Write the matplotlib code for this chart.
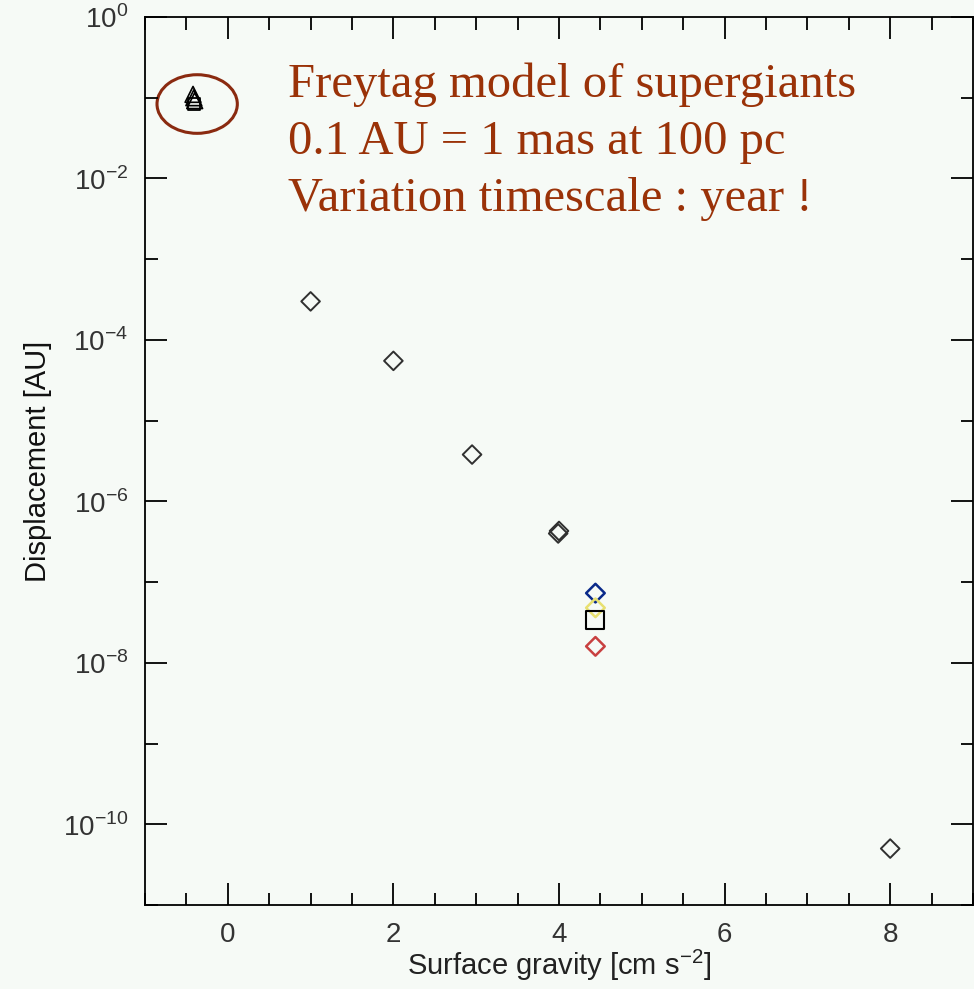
import math
import matplotlib
matplotlib.use("Agg")
import matplotlib.pyplot as plt
from matplotlib.patches import Ellipse
from matplotlib.ticker import LogLocator, MultipleLocator, FuncFormatter, NullFormatter

# black diamonds (surface gravity, displacement)
diamond_g = [1.0, 2.0, 2.95, 4.0, 3.99, 8.0]
diamond_d = [3.0e-4, 5.5e-5, 3.8e-6, 4.3e-7, 4.0e-7, 5.0e-11]
# coloured points near solar gravity
sun_g = [4.44, 4.44, 4.44]
sun_d = [7.3e-8, 4.8e-8, 1.6e-8]
sun_colors = ["#0a2a8a", "#e8e070", "#c84040"]
square_g = [4.44]
square_d = [3.4e-8]
# supergiant triangles
tri_g = [-0.42, -0.41, -0.40]
tri_d = [0.11, 0.10, 0.092]
box_g = [-0.41]
box_d = [0.083]

note_lines = ["Freytag model of supergiants",
              "0.1 AU = 1 mas at 100 pc",
              "Variation timescale : year !"]

bg = "#f6faf6"
fig = plt.figure(figsize=(9.74, 9.89), dpi=100, facecolor=bg)
ax = fig.add_axes([145 / 974, 1 - 905 / 989, (973 - 145) / 974, (905 - 17) / 989])
ax.set_facecolor(bg)
ax.set_yscale("log")
ax.set_xlim(-1, 9)
ax.set_ylim(1e-11, 1)

ax.scatter(diamond_g, diamond_d, marker="D", s=90, facecolors="none",
           edgecolors="#303030", linewidths=1.4, zorder=3)
ax.scatter(sun_g, sun_d, marker="D", s=90, facecolors="none",
           edgecolors=sun_colors, linewidths=1.8, zorder=3)
ax.scatter(square_g, square_d, marker="s", s=170, facecolors="none",
           edgecolors="black", linewidths=1.5, zorder=4)
ax.scatter(tri_g, tri_d, marker="^", s=130, facecolors="none",
           edgecolors="black", linewidths=1.2, zorder=3)
ax.scatter(box_g, box_d, marker="s", s=80, facecolors="none",
           edgecolors="black", linewidths=1.3, zorder=3)

# circle drawn round the supergiants (axes fraction)
ax.add_patch(Ellipse((0.063, 0.902), 0.097, 0.066, transform=ax.transAxes,
                     fill=False, edgecolor="#8a2a10", linewidth=2.2))

ax.xaxis.set_major_locator(MultipleLocator(2))
ax.xaxis.set_minor_locator(MultipleLocator(0.5))
ax.yaxis.set_major_locator(LogLocator(base=100, numticks=20))
ax.yaxis.set_minor_locator(LogLocator(base=10, subs=[1.0], numticks=20))
ax.yaxis.set_minor_formatter(NullFormatter())
ax.yaxis.set_major_formatter(
    FuncFormatter(lambda v, p: r"10$^{\mathregular{%d}}$" % round(math.log10(v))))
ax.xaxis.offsetText.set_visible(False)
ax.yaxis.offsetText.set_visible(False)
ax.tick_params(which="both", direction="in", top=True, right=True, width=1.3,
               labelsize=20, pad=12)
ax.tick_params(which="major", length=16)
ax.tick_params(which="minor", length=9)
for s in ax.spines.values():
    s.set_linewidth(1.3)

fam = ["Liberation Sans", "DejaVu Sans"]
for lab in ax.get_xticklabels() + ax.get_yticklabels():
    lab.set_family(fam)
    lab.set_color("#333333")
ax.set_xlabel(r"Surface gravity [cm s$^{\mathregular{-2}}$]", fontsize=21,
              family=fam, color="#222222", labelpad=0)
ax.set_ylabel("Displacement [AU]", fontsize=21, family=fam, color="#111111",
              labelpad=8)

for i, line in enumerate(note_lines):
    fig.text(288 / 974, 1 - (85 + 57 * i) / 989, line, fontsize=35,
             family="Liberation Serif", color="#9a3208", va="center", ha="left")

fig.savefig("out.png", dpi=100, facecolor=bg)
